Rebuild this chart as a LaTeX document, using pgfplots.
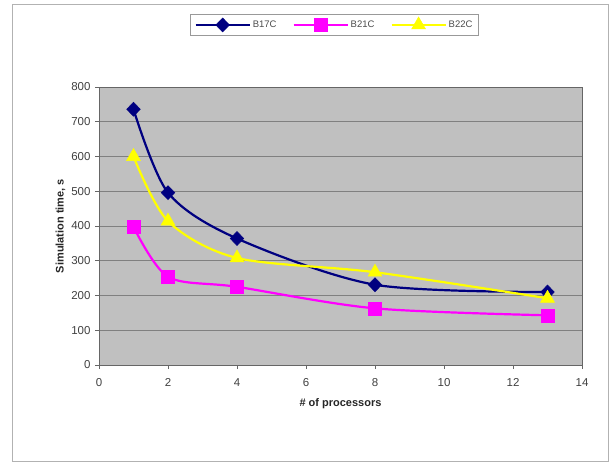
\documentclass[border=0pt]{standalone}
\usepackage{pgfplots}
\pgfplotsset{compat=1.18}
\usepackage{fontspec}
\setmainfont{Liberation Sans}
\definecolor{bnavy}{RGB}{0,0,128}
\definecolor{bmag}{RGB}{255,0,255}
\definecolor{byel}{RGB}{255,255,0}
\definecolor{plotbg}{RGB}{192,192,192}
\begin{document}
\begin{tikzpicture}[x=1pt,y=1pt]
\path (0,0) rectangle (609,464);
\draw[gray!60, line width=1pt] (12,3) rectangle (608,459);
\begin{axis}[
  at={(99pt,99pt)}, anchor=south west,
  scale only axis, width=483pt, height=278pt,
  xmin=0, xmax=14, ymin=0, ymax=800,
  xtick={0,2,...,14}, ytick={0,100,...,800},
  axis background/.style={fill=plotbg},
  axis line style={draw=black!60, line width=0.8pt},
  ymajorgrids, grid style={draw=black!50, line width=0.6pt},
  tick align=outside, major tick length=4pt,
  tick style={draw=black!60, line width=0.6pt},
  xtick pos=bottom, ytick pos=left,
  tick label style={font=\fontsize{11.5}{13}\selectfont, text=black!75},
  /pgf/number format/assume math mode=true,
  xticklabel style={yshift=-6pt},
  yticklabel style={xshift=-1pt},
  xlabel={\textbf{\# of processors}},
  ylabel={\textbf{Simulation time, s}},
  label style={font=\fontsize{11}{13}\selectfont, text=black!85},
  xlabel style={yshift=-5pt},
  ylabel style={yshift=-1pt},
  legend columns=3,
  legend style={at={(0.4876,1.225)}, anchor=center, draw=black!40, fill=white,
    font=\fontsize{9.5}{11}\selectfont, text=black!70, inner xsep=4pt, inner ysep=3pt,
    /tikz/every even column/.append style={column sep=14pt}},
  legend image code/.code={\draw[#1, mark repeat=2, mark phase=2] plot coordinates {(0pt,0pt) (27pt,0pt) (54pt,0pt)};},
  every axis plot/.append style={line width=2.2pt, smooth, tension=0.5},
]
\addplot[color=bnavy, mark=diamond*, mark size=7pt, mark options={xscale=1.3, line width=0.5pt}]
  coordinates {(1,736) (2,496) (4,364) (8,231) (13,210)};
\addlegendentry{B17C}
\addplot[color=bmag, mark=square*, mark size=6.5pt, mark options={line width=0.5pt}]
  coordinates {(1,398) (2,254) (4,225) (8,163) (13,143)};
\addlegendentry{B21C}
\addplot[color=byel, mark=triangle*, mark size=8pt, mark options={line width=0.5pt}]
  coordinates {(1,600) (2,414) (4,308) (8,267) (13,192)};
\addlegendentry{B22C}
\end{axis}
\end{tikzpicture}
\end{document}
